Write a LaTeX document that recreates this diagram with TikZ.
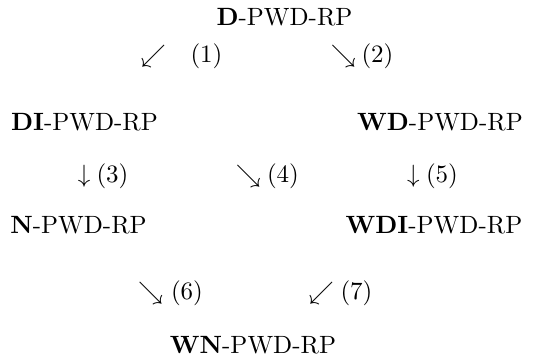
\documentclass[tikz,border=0pt]{standalone}
\begin{document}
\begin{tikzpicture}[x=0.4pt,y=-0.4pt,
  lbl/.style={inner sep=0pt,anchor=base},
  arr/.style={inner sep=0pt,anchor=base}]
\useasboundingbox (0,0) rectangle (556,362);
% method nodes
\node[lbl] (d)   at (284.5,25)  {\textbf{D}-PWD-RP};
\node[lbl] (di)  at (84.5,130)  {\textbf{DI}-PWD-RP};
\node[lbl] (wd)  at (440,130)   {\textbf{WD}-PWD-RP};
\node[lbl] (n)   at (78.5,233)  {\textbf{N}-PWD-RP};
\node[lbl] (wdi) at (434,233)   {\textbf{WDI}-PWD-RP};
\node[lbl] (wn)  at (253,353)   {\textbf{WN}-PWD-RP};
% transition arrows and their numbers
\node[arr] (a1) at (153.5,62) {$\swarrow$};
\node[arr] (l1) at (206.5,62) {$(1)$};
\node[arr] (a2) at (343.5,62) {$\searrow$};
\node[arr] (l2) at (377.5,62) {$(2)$};
\node[arr] (a3) at (84,182)   {$\downarrow$};
\node[arr] (l3) at (112.5,182) {$(3)$};
\node[arr] (a4) at (248.5,182) {$\searrow$};
\node[arr] (l4) at (283,182)  {$(4)$};
\node[arr] (a5) at (413.5,182) {$\downarrow$};
\node[arr] (l5) at (442,182)  {$(5)$};
\node[arr] (a6) at (150.5,299) {$\searrow$};
\node[arr] (l6) at (187,299)  {$(6)$};
\node[arr] (a7) at (321.5,299) {$\swarrow$};
\node[arr] (l7) at (356.5,299) {$(7)$};
\end{tikzpicture}
\end{document}
